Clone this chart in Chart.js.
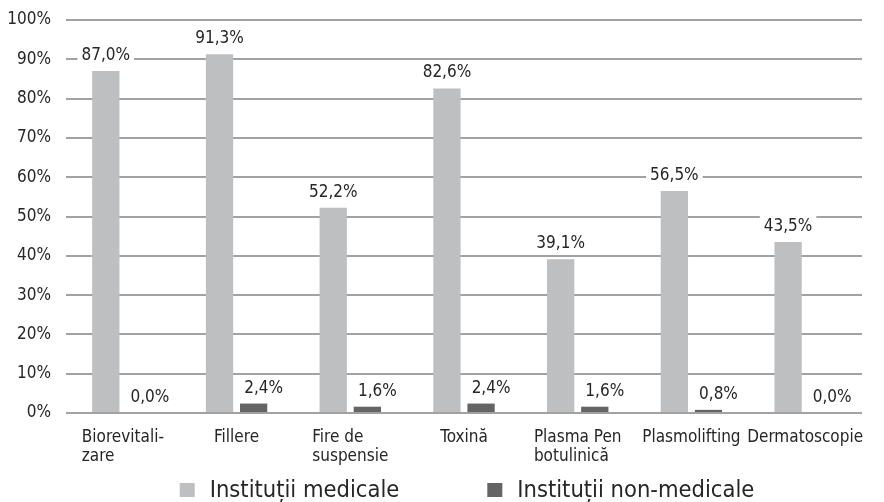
<!DOCTYPE html>
<html>
<head>
<meta charset="utf-8">
<script src="https://cdn.jsdelivr.net/npm/chart.js@4.4.1/dist/chart.umd.min.js"></script>
<style>
  html, body { margin: 0; padding: 0; background: #ffffff; }
</style>
</head>
<body>
<canvas id="chart" width="884" height="502"></canvas>
<script>
/* procedures offered: medical vs non-medical institutions */

const categories = [
  ['Biorevitali-', 'zare'],
  ['Fillere'],
  ['Fire de', 'suspensie'],
  ['Toxină'],
  ['Plasma Pen', 'botulinică'],
  ['Plasmolifting'],
  ['Dermatoscopie']
];
const medicalValues    = [87.0, 91.3, 52.2, 82.6, 39.1, 56.5, 43.5];
const nonMedicalValues = [0.0, 2.4, 1.6, 2.4, 1.6, 0.8, 0.0];
const seriesNames      = ['Instituții medicale', 'Instituții non-medicale'];

const FONT       = '"DejaVu Sans Condensed", "Liberation Sans Narrow", Lato';
const TEXT_COLOR = '#262626';
const GRID_COLOR = '#a2a2a2';

const fmtPct = v => v.toFixed(1).replace('.', ',') + '%';

/* ── value labels above bars, white box so gridlines break behind them ── */
const valueLabels = {
  id: 'valueLabels',
  afterDatasetsDraw(chart) {
    const ctx = chart.ctx;
    ctx.save();
    ctx.font = `17px ${FONT}`;
    ctx.textAlign = 'center';
    ctx.textBaseline = 'alphabetic';
    chart.data.datasets.forEach((ds, di) => {
      const meta = chart.getDatasetMeta(di);
      const shift = di === 1 ? 10 : 0;
      meta.data.forEach((bar, i) => {
        const txt = fmtPct(ds.data[i]);
        const w = ctx.measureText(txt).width;
        const x = bar.x + shift;
        const y = bar.y - 11;
        ctx.fillStyle = '#ffffff';
        ctx.fillRect(x - w / 2 - 4, y - 16, w + 8, 20);
        ctx.fillStyle = TEXT_COLOR;
        ctx.fillText(txt, x, y);
      });
    });
    ctx.restore();
  }
};

/* ── category labels: multi-line, lines left-aligned inside a centred block ── */
const categoryLabels = {
  id: 'categoryLabels',
  afterDraw(chart) {
    const ctx = chart.ctx;
    const xs = chart.scales.x;
    const base = chart.chartArea.bottom + 29;
    ctx.save();
    ctx.font = `17px ${FONT}`;
    ctx.fillStyle = TEXT_COLOR;
    ctx.textAlign = 'left';
    ctx.textBaseline = 'alphabetic';
    categories.forEach((lines, i) => {
      const cx = xs.getPixelForValue(i);
      const w = Math.max(...lines.map(l => ctx.measureText(l).width));
      lines.forEach((l, k) => ctx.fillText(l, cx - w / 2, base + k * 19));
    });
    ctx.restore();
  }
};

/* ── legend row under the axis ── */
const bottomLegend = {
  id: 'bottomLegend',
  afterDraw(chart) {
    const ctx = chart.ctx;
    const ds = chart.data.datasets;
    const box = 15, gapText = 15, gapItem = 88;
    ctx.save();
    ctx.font = `23.5px ${FONT}`;
    ctx.textBaseline = 'alphabetic';
    const widths = ds.map(d => ctx.measureText(d.label).width);
    const total = widths.reduce((a, w) => a + box + gapText + w, 0) + gapItem * (ds.length - 1);
    let x = 467 - total / 2;
    const y = 490;
    ds.forEach((d, i) => {
      ctx.fillStyle = d.backgroundColor;
      ctx.fillRect(x, y - 7, box, 14);
      ctx.fillStyle = TEXT_COLOR;
      ctx.fillText(d.label, x + box + gapText, y + 7);
      x += box + gapText + widths[i] + gapItem;
    });
    ctx.restore();
  }
};

new Chart(document.getElementById('chart'), {
  type: 'bar',
  data: {
    labels: categories,
    datasets: [
      { label: seriesNames[0], data: medicalValues,    backgroundColor: '#bebfc1' },
      { label: seriesNames[1], data: nonMedicalValues, backgroundColor: '#646464' }
    ]
  },
  options: {
    responsive: false,
    animation: false,
    devicePixelRatio: 1,
    layout: { padding: { top: 20, right: 22, bottom: 81, left: 0 } },
    datasets: { bar: { categoryPercentage: 0.6, barPercentage: 0.8 } },
    plugins: { legend: { display: false }, tooltip: { enabled: false } },
    scales: {
      x: {
        grid: { display: false },
        border: { display: false },
        ticks: { display: false }
      },
      y: {
        min: 0, max: 100,
        afterFit: s => {
          s.width = 66;
          s.paddingTop = 0;
          s.paddingBottom = 0;
        },
        border: { display: false },
        grid: { color: GRID_COLOR, lineWidth: 2, drawTicks: false },
        ticks: {
          stepSize: 10, padding: 15,
          color: TEXT_COLOR,
          font: { family: FONT, size: 17 },
          callback: v => v + '%'
        }
      }
    }
  },
  plugins: [valueLabels, categoryLabels, bottomLegend]
});
</script>
</body>
</html>
